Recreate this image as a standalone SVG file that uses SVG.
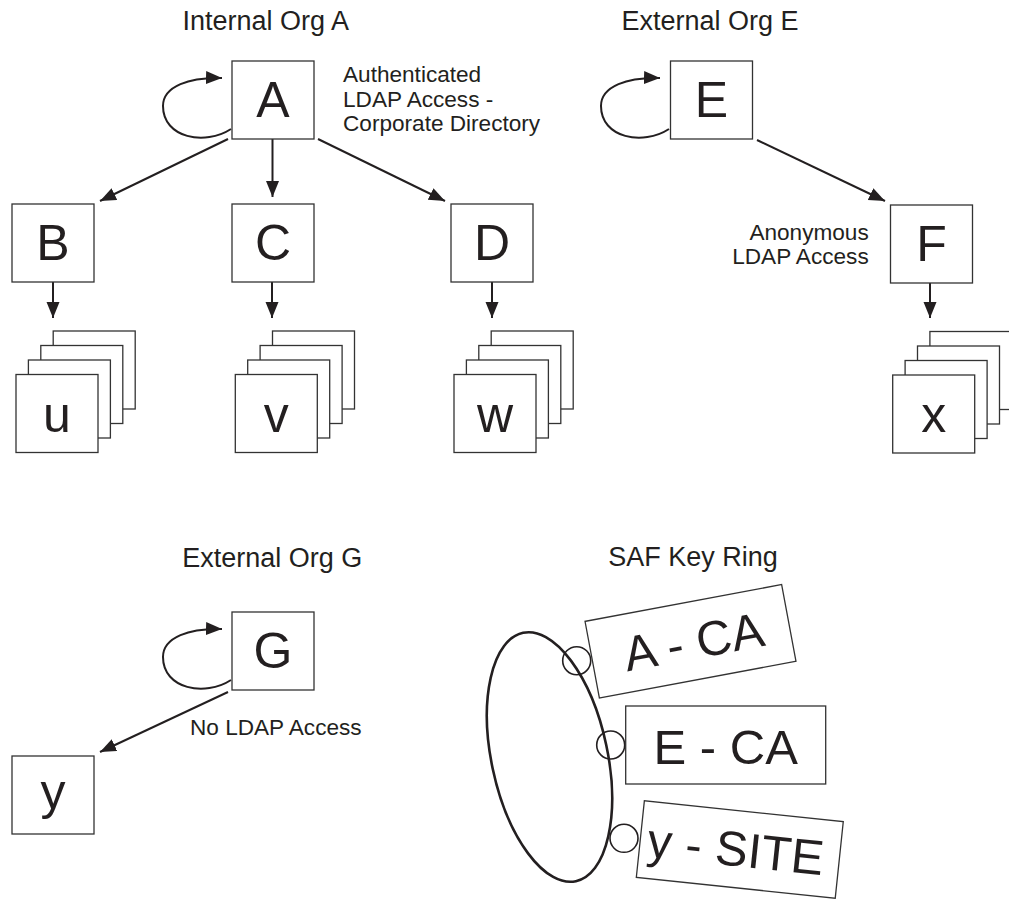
<svg xmlns="http://www.w3.org/2000/svg" width="1009" height="899" viewBox="0 0 1009 899">
<style>
  .bg{fill:#fff}
  .box{fill:#fff;stroke:#333;stroke-width:1.3}
  .big{font-family:"Liberation Sans",Arial,sans-serif;font-size:50px;fill:#231f20;text-anchor:middle}
  .key{font-family:"Liberation Sans",Arial,sans-serif;font-size:49px;fill:#231f20;text-anchor:middle}
  .title{font-family:"Liberation Sans",Arial,sans-serif;font-size:27px;fill:#231f20}
  .lbl{font-family:"Liberation Sans",Arial,sans-serif;font-size:22.6px;fill:#231f20}
  .edge{fill:none;stroke:#231f20;stroke-width:2;marker-end:url(#ah)}
  .ring{fill:none;stroke:#231f20;stroke-width:1.6}
</style>
<defs>
  <marker id="ah" markerUnits="userSpaceOnUse" markerWidth="17" markerHeight="14" refX="16" refY="6.5" orient="auto">
    <path d="M0,0 L16,6.5 L0,13 z" fill="#231f20"/>
  </marker>
  <rect id="sq" class="box" width="82" height="78"/>
  <g id="stack">
    <use href="#sq" x="37.2" y="-43.5"/>
    <use href="#sq" x="24.8" y="-29"/>
    <use href="#sq" x="12.4" y="-14.5"/>
    <use href="#sq" x="0" y="0"/>
  </g>
</defs>
<rect class="bg" width="1009" height="899"/>

<g id="titles">
  <text class="title" x="182.5" y="29.5">Internal Org A</text>
  <text class="title" x="621.5" y="29.5">External Org E</text>
  <text class="title" x="182.3" y="566.5">External Org G</text>
  <text class="title" x="608.3" y="565.7">SAF Key Ring</text>
</g>

<g id="labels">
  <text class="lbl" x="343" y="82">Authenticated</text>
  <text class="lbl" x="343" y="106.5">LDAP Access -</text>
  <text class="lbl" x="343" y="131">Corporate Directory</text>
  <text class="lbl" x="868.7" y="240" text-anchor="end">Anonymous</text>
  <text class="lbl" x="868.7" y="264" text-anchor="end">LDAP Access</text>
  <text class="lbl" x="190" y="735">No LDAP Access</text>
</g>

<g id="connectors">
  <path class="edge" d="M231,129 C205,146 163,138 163,106 C163,86 190,77 222,78"/>
  <path class="edge" d="M669,129 C643,146 601,138 601,106 C601,86 628,77 660,78"/>
  <path class="edge" d="M231,680 C205,697 163,689 163,657 C163,637 190,628 222,629"/>
  <path class="edge" d="M228,139 L100,201"/>
  <path class="edge" d="M272.5,139 L272.5,197"/>
  <path class="edge" d="M318,139 L445,201"/>
  <path class="edge" d="M757,140 L885,201"/>
  <path class="edge" d="M228,692 L100,752"/>
  <path class="edge" d="M53,282 L53,318"/>
  <path class="edge" d="M272,282 L272,318"/>
  <path class="edge" d="M492,282 L492,318"/>
  <path class="edge" d="M930,283 L930,318"/>
</g>

<g id="node-A"><use href="#sq" x="232" y="61"/><text class="big" x="273" y="116.5">A</text></g>
<g id="node-E"><use href="#sq" x="670.5" y="61"/><text class="big" x="711.5" y="116.5">E</text></g>
<g id="node-B"><use href="#sq" x="12" y="204"/><text class="big" x="53" y="259.5">B</text></g>
<g id="node-C"><use href="#sq" x="232" y="204"/><text class="big" x="273" y="259.5">C</text></g>
<g id="node-D"><use href="#sq" x="451" y="204"/><text class="big" x="492" y="259.5">D</text></g>
<g id="node-F"><use href="#sq" x="890.5" y="205"/><text class="big" x="931.5" y="260.5">F</text></g>
<g id="node-G"><use href="#sq" x="232" y="612"/><text class="big" x="273" y="667.5">G</text></g>
<g id="node-y"><use href="#sq" x="12" y="756"/><text class="big" x="53" y="809">y</text></g>

<g id="node-u"><use href="#stack" x="16" y="374.5"/><text class="big" x="57" y="431.5">u</text></g>
<g id="node-v"><use href="#stack" x="235.3" y="374.5"/><text class="big" x="276.3" y="431.5">v</text></g>
<g id="node-w"><use href="#stack" x="454" y="374.5"/><text class="big" x="495" y="431.5">w</text></g>
<g id="node-x"><use href="#stack" x="892.7" y="375"/><text class="big" x="933.7" y="432">x</text></g>

<g id="keyring">
  <ellipse cx="549.5" cy="757" rx="58" ry="127" transform="rotate(-12 549.5 757)" fill="none" stroke="#231f20" stroke-width="2.6"/>
  <circle class="ring" cx="576.7" cy="660.7" r="14"/>
  <circle class="ring" cx="610.7" cy="745" r="14"/>
  <circle class="ring" cx="624" cy="838.3" r="14"/>
</g>
<g id="key-A-CA" transform="translate(690.5 641.3) rotate(-10.6)">
  <rect class="box" x="-100" y="-39" width="200" height="78"/>
  <text class="key" x="3" y="18">A - CA</text>
</g>
<g id="key-E-CA" transform="translate(725.7 745)">
  <rect class="box" x="-100" y="-39" width="200" height="78"/>
  <text class="key" x="0" y="19">E - CA</text>
</g>
<g id="key-y-SITE" transform="translate(739.8 849.5) rotate(6)">
  <rect class="box" x="-100" y="-38.5" width="200" height="77"/>
  <text class="key" x="-4" y="17">y - SITE</text>
</g>
</svg>
